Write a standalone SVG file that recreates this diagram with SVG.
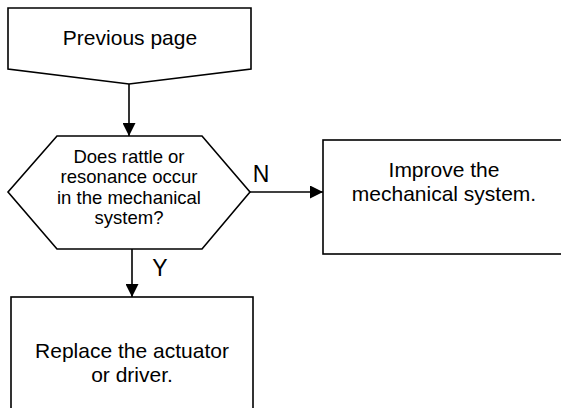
<svg xmlns="http://www.w3.org/2000/svg" width="561" height="408" viewBox="0 0 561 408">
<style>
.shape{fill:#fff;stroke:#000;stroke-width:1.6}
.line{fill:none;stroke:#000;stroke-width:1.6}
text{font-family:"Liberation Sans",Arial,sans-serif;fill:#000;text-anchor:middle}
.t21{font-size:21px}
.t18{font-size:18.5px}
.lbl{font-size:23px}
</style>
<defs>
<marker id="arr" markerWidth="13" markerHeight="13" refX="13" refY="6.5" orient="auto" markerUnits="userSpaceOnUse">
<path d="M0,0 L13,6.5 L0,13 Z" fill="#000"/>
</marker>
</defs>
<rect width="561" height="408" fill="#fff"/>
<g id="connectors">
<line class="line" x1="129" y1="84" x2="129" y2="136" marker-end="url(#arr)"/>
<line class="line" x1="250" y1="192" x2="323" y2="192" marker-end="url(#arr)"/>
<line class="line" x1="132" y1="249" x2="132" y2="297" marker-end="url(#arr)"/>
<text class="lbl" x="261" y="182">N</text>
<text class="lbl" x="160" y="276">Y</text>
</g>
<g id="previous">
<path class="shape" d="M8,8 H251 V69 L129,84 L8,69 Z"/>
<text class="t21" x="130" y="45">Previous page</text>
</g>
<g id="decision">
<path class="shape" d="M57,136 H202 L250,192 L202,249 H57 L8,192 Z"/>
<text class="t18" x="129" y="163">Does rattle or</text>
<text class="t18" x="129" y="183">resonance occur</text>
<text class="t18" x="129" y="203.5">in the mechanical</text>
<text class="t18" x="129" y="223.5">system?</text>
</g>
<g id="improve">
<rect class="shape" x="323" y="140" width="245" height="114"/>
<text class="t21" x="444" y="177">Improve the</text>
<text class="t21" x="444" y="200.5">mechanical system.</text>
</g>
<g id="replace">
<rect class="shape" x="11" y="297" width="242" height="120"/>
<text class="t21" x="132" y="358">Replace the actuator</text>
<text class="t21" x="132" y="382">or driver.</text>
</g>
</svg>
